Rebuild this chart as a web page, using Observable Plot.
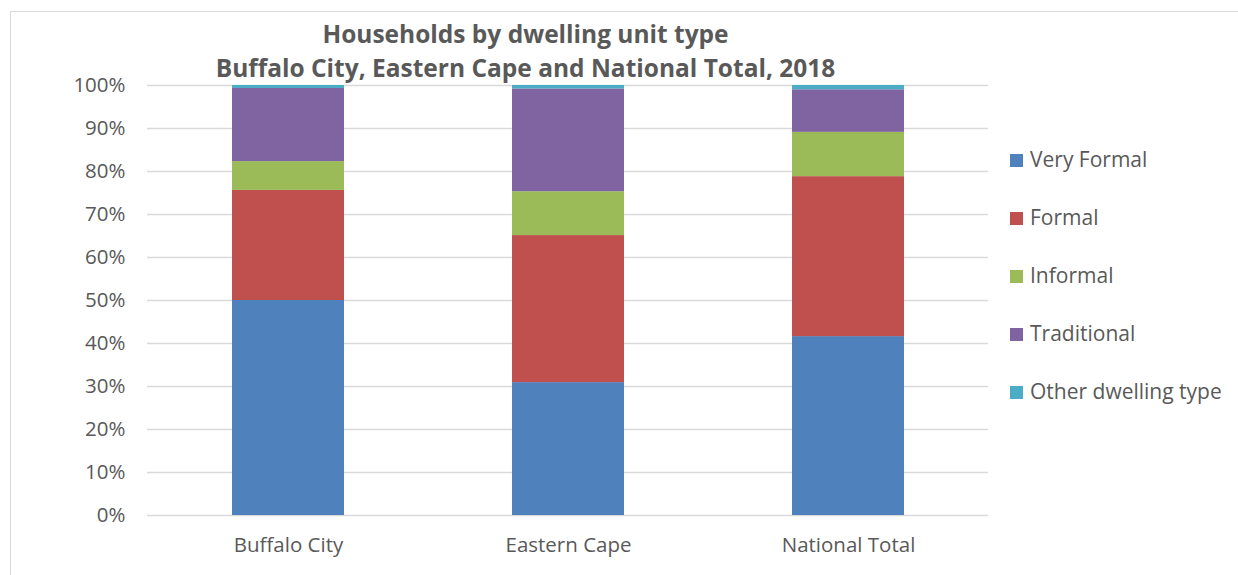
<!DOCTYPE html>
<html>
<head>
<meta charset="utf-8">
<script src="https://cdn.jsdelivr.net/npm/d3@7"></script>
<script src="https://cdn.jsdelivr.net/npm/@observablehq/plot@0.6"></script>
<style>
  html, body { margin: 0; padding: 0; background: #fff; }
  #wrap { position: relative; width: 1238px; height: 575px; overflow: hidden; font-family: "Open Sans", sans-serif; color: #595959; }
  #frame { position: absolute; left: 10px; top: 11px; width: 1240px; height: 600px; border: 1px solid #d9d9d9; box-sizing: border-box; }
  #title { position: absolute; left: 85px; width: 881px; top: 17px; text-align: center; font-weight: bold; font-size: 24.5px; line-height: 34px; color: #595959; white-space: nowrap; }
  #chart { position: absolute; left: 0; top: 0; }
  #legend { position: absolute; left: 1010px; top: 0; }
  .item { position: absolute; left: 0; white-space: nowrap; font-size: 21px; line-height: 22px; color: #595959; }
  .sw { display: inline-block; width: 13px; height: 13px; margin-right: 7px; vertical-align: 0px; }
</style>
</head>
<body>
<div id="wrap">
  <div id="frame"></div>
  <div id="chart"></div>
  <div id="title">Households by dwelling unit type<br>Buffalo City, Eastern Cape and National Total, 2018</div>
  <div id="legend"></div>
</div>
<script>
const categories = ["Buffalo City", "Eastern Cape", "National Total"];
const seriesNames = ["Very Formal", "Formal", "Informal", "Traditional", "Other dwelling type"];
const seriesColors = ["#4F81BD", "#C0504D", "#9BBB59", "#8064A2", "#4BACC6"];
const veryFormal = [50.0, 30.9, 41.6];
const formal = [25.6, 34.2, 37.2];
const informal = [6.7, 10.2, 10.3];
const traditional = [17.0, 23.9, 9.9];
const other = [0.7, 0.8, 1.0];
const yTicks = [0, 0.1, 0.2, 0.3, 0.4, 0.5, 0.6, 0.7, 0.8, 0.9, 1.0];

const seriesValues = [veryFormal, formal, informal, traditional, other];
const rows = [];
categories.forEach((c, i) => {
  seriesNames.forEach((s, j) => {
    rows.push({ category: c, series: s, value: seriesValues[j][i] / 100 });
  });
});

const chart = Plot.plot({
  width: 1238,
  height: 575,
  marginLeft: 147,
  marginRight: 250,
  marginTop: 85,
  marginBottom: 60,
  style: { fontFamily: "Open Sans, sans-serif", fontSize: "20.5px", color: "#595959", background: "transparent" },
  x: { domain: categories, paddingInner: 0.6, paddingOuter: 0.3, label: null, tickSize: 0, tickPadding: 22 },
  y: { domain: [0, 1], ticks: yTicks, tickFormat: d3.format(".0%"), label: null, tickSize: 0, tickPadding: 22 },
  color: { domain: seriesNames, range: seriesColors },
  marks: [
    Plot.ruleY(yTicks, { stroke: "#d9d9d9", strokeWidth: 1.5 }),
    Plot.barY(rows, { x: "category", y: "value", fill: "series" })
  ]
});
chart.querySelectorAll("[aria-label='x-axis tick label'] text, [aria-label='y-axis tick label'] text").forEach(t => t.setAttribute("fill", "#595959"));
document.getElementById("chart").appendChild(chart);

const legend = document.getElementById("legend");
const legendTop = [159, 217, 275, 333, 391];
seriesNames.forEach((s, j) => {
  const d = document.createElement("div");
  d.className = "item";
  d.style.top = (legendTop[j] - 11) + "px";
  d.innerHTML = `<span class="sw" style="background:${seriesColors[j]}"></span>${s}`;
  legend.appendChild(d);
});
</script>
</body>
</html>
